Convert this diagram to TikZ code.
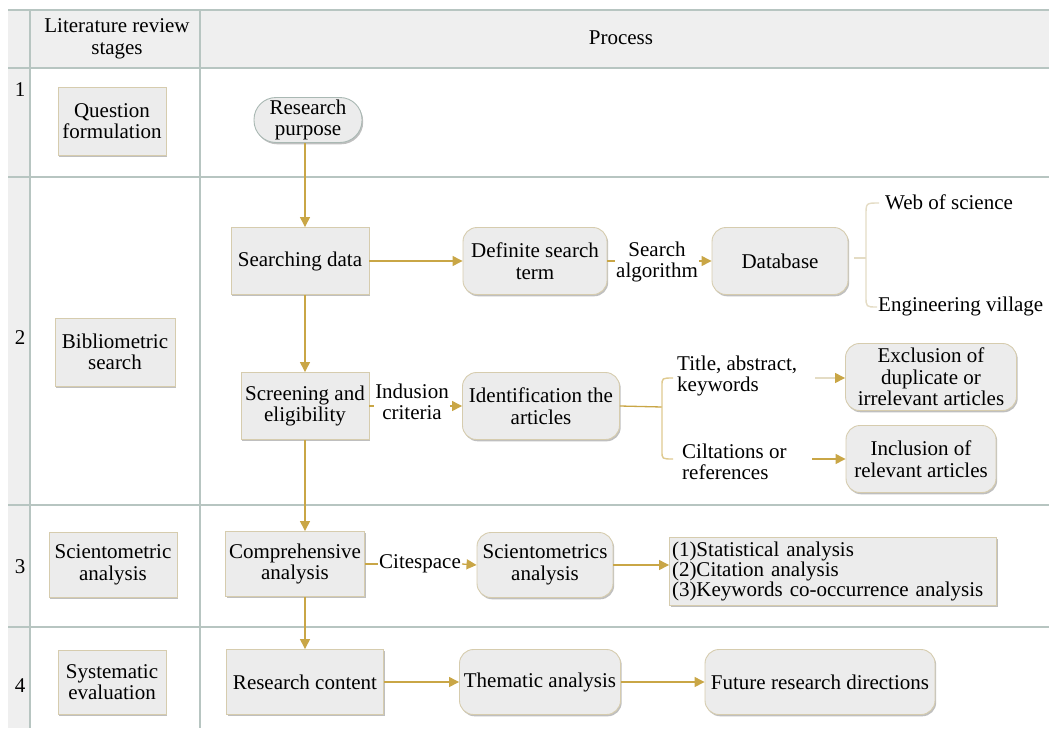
\documentclass[tikz,border=0pt]{standalone}
\usepackage{fontspec}
\setmainfont{Liberation Serif}
\usetikzlibrary{shadows,arrows.meta}
\definecolor{gridc}{HTML}{B7C5C1}
\definecolor{hdr}{HTML}{EFEFEF}
\definecolor{boxf}{HTML}{ECECEC}
\definecolor{boxd}{HTML}{D6CCAE}
\definecolor{pilld}{HTML}{A9B8B3}
\definecolor{arr}{HTML}{C9A646}
\definecolor{pale}{HTML}{E4DCC4}
\newcommand\myfs{\fontsize{21}{21.5}\selectfont}
\tikzset{
  base/.style={draw=boxd, fill=boxf, line width=0.9pt, align=center, inner sep=1pt, font=\myfs,
    drop shadow={shadow xshift=1.2pt, shadow yshift=-1.8pt, fill=black, opacity=.25}},
  sqbox/.style={base},
  rbox/.style={base, rounded corners=14pt},
  pill/.style={base, draw=pilld, rounded corners=22pt},
  lbl/.style={font=\myfs, align=center, inner sep=1pt},
  conn/.style={draw=arr, line width=1.3pt, -{Triangle[length=10pt,width=10pt]}},
  plain/.style={draw=arr, line width=1.3pt},
  brace/.style={draw=pale, line width=1.4pt},
  grid/.style={draw=gridc, line width=1.4pt},
}
\begin{document}
\begin{tikzpicture}[x=1pt,y=-1pt]
\useasboundingbox (0,0) rectangle (1049,728);
% table background
\fill[hdr] (8,10) rectangle (30,728);
\fill[hdr] (30,10) rectangle (1049,68);
\draw[grid] (8,10) -- (1049,10);
\foreach \yy in {68,177,505,627} \draw[grid] (8,\yy) -- (1049,\yy);
\draw[grid] (30,10) -- (30,728);
\draw[grid] (200,10) -- (200,728);
% header
\node[lbl] (h1) at (117,39) {Literature review\\stages};
\node[lbl] (h2) at (621,38) {Process};
% row numbers
\node[lbl] (n1) at (20,90) {1};
\node[lbl] (n2) at (20,338) {2};
\node[lbl] (n3) at (20,567) {3};
\node[lbl] (n4) at (20,686) {4};
% stage boxes
\node[sqbox, minimum width=108pt, minimum height=68pt] (s1) at (112,121) {Question\\formulation};
\node[sqbox, minimum width=120pt, minimum height=68pt] (s2) at (115,352) {Bibliometric\\search};
\node[sqbox, minimum width=128pt, minimum height=65pt] (s3) at (113,565) {Scientometric\\analysis};
\node[sqbox, minimum width=108pt, minimum height=64pt] (s4) at (112,682) {Systematic\\evaluation};
% process nodes
\node[pill, minimum width=108pt, minimum height=45pt] (rp) at (308,120) {Research\\purpose};
\node[sqbox, minimum width=138pt, minimum height=67pt] (sd) at (300,261) {Searching data};
\node[rbox, minimum width=144pt, minimum height=67pt] (dt) at (535,261) {Definite search\\term};
\node[lbl] (sa) at (657,262) {Search\\algorithm};
\node[rbox, minimum width=136pt, minimum height=67pt] (db) at (780,261) {Database};
\node[lbl, anchor=west] (ws) at (884,202) {Web of science};
\node[lbl, anchor=west] (ev) at (877,306) {Engineering village};
\node[sqbox, minimum width=128pt, minimum height=67pt] (se) at (305,406) {Screening and\\eligibility};
\node[lbl] (ic) at (412,402) {Indusion\\criteria};
\node[rbox, minimum width=157pt, minimum height=67pt] (ia) at (541,406) {Identification the\\articles};
\node[lbl, anchor=west, align=left] (tk) at (676,376) {Title, abstract,\\keywords};
\node[lbl, anchor=west, align=left] (cr) at (681,462) {Ciltations or\\references};
\node[rbox, minimum width=171pt, minimum height=67pt] (ex) at (931,377) {Exclusion of\\duplicate or\\irrelevant articles};
\node[rbox, minimum width=150pt, minimum height=67pt] (in) at (921,459) {Inclusion of\\relevant articles};
\coordinate (tkend) at (815,378);
\coordinate (crend) at (812,459);
\node[sqbox, minimum width=139pt, minimum height=65pt] (ca) at (295,564) {Comprehensive\\analysis};
\node[lbl] (cs) at (420,564) {Citespace};
\node[rbox, minimum width=136pt, minimum height=65pt] (sm) at (545,565) {Scientometrics\\analysis};
\node[sqbox, minimum width=327pt, minimum height=68pt, align=left, text width=322pt, font=\fontsize{21}{20}\selectfont] (ls) at (833,571) {(1)Statistical analysis\\(2)Citation analysis\\(3)Keywords co-occurrence analysis};
\node[sqbox, minimum width=157pt, minimum height=65pt] (rc) at (305,682) {Research content};
\node[rbox, minimum width=161pt, minimum height=65pt] (ta) at (540,682) {Thematic analysis};
\node[rbox, minimum width=230pt, minimum height=65pt] (fr) at (820,682) {Future research directions};
% vertical flow
\draw[conn] (rp.south -| se) -- (sd.north -| se);
\draw[conn] (sd.south -| se) -- (se.north);
\draw[conn] (se.south) -- (ca.north -| se);
\draw[conn] (ca.south -| se) -- (rc.north);
% horizontal flow
\draw[conn] (sd.east) -- (dt.west);
\draw[plain] (dt.east) -- (sa.west |- dt.east);
\draw[conn] (sa.east |- db.west) -- (db.west);
\draw[plain] (se.east) -- (se.east -| ic.west);
\draw[conn] (ia.west -| ic.east) -- (ia.west);
\draw[plain] (ca.east) -- (cs.west);
\draw[conn] (cs.east) -- (sm.west);
\draw[conn] (sm.east) -- (sm.east -| ls.west);
\draw[conn] (rc.east) -- (ta.west);
\draw[conn] (ta.east) -- (fr.west);
% braces
\draw[brace] (db.east) ++(6,-3) -- (866,258);
\draw[brace] (879,203) .. controls (866,203) .. (866,215) -- (866,296) .. controls (866,307) .. (877,307);
\draw[plain] (ia.east) -- (662,407);
\draw[brace, draw=arr!60] (673,378) .. controls (662,378) .. (662,386) -- (662,451) .. controls (662,459) .. (673,459);
\draw[draw=pale, line width=1.3pt, -{Triangle[length=10pt,width=10pt,color=arr]}] (tkend) -- (ex.west |- tkend);
\draw[conn] (crend) -- (in.west |- crend);
\end{tikzpicture}
\end{document}
